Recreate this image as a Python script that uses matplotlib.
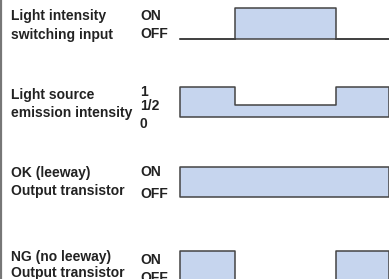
import matplotlib
matplotlib.use("Agg")
import matplotlib.pyplot as plt
import numpy as np

# ---- data ----
times = [0.0, 2.65, 7.45, 10.0]            # transition times (arbitrary units)
switch_input = [0, 1, 0, 0]                # Light intensity switching input (OFF/ON)
emission = [1, 0.4, 1, 1]                  # Light source emission intensity (1, 1/2)
ok_output = [1, 1, 1, 1]                   # OK (leeway) output transistor
ng_output = [1, 0, 1, 1]                   # NG (no leeway) output transistor

row_titles = [("Light intensity", "switching input"),
              ("Light source", "emission intensity"),
              ("OK (leeway)", "Output transistor"),
              ("NG (no leeway)", "Output transistor")]
row_ticks = [["ON", "OFF"], ["1", "1/2", "0"], ["ON", "OFF"], ["ON", "OFF"]]
signals = [switch_input, emission, ok_output, ng_output]

W, H = 389, 279
fig = plt.figure(figsize=(W / 100, H / 100), dpi=100)

# background axes in pixel coords for text
bg = fig.add_axes([0, 0, 1, 1])
bg.set_xlim(0, W)
bg.set_ylim(H, 0)
bg.axis("off")
bg.plot([1, 1], [0, H], color="#777777", lw=1.6, solid_capstyle="butt")

font = dict(family=["Liberation Sans", "DejaVu Sans"], weight="bold",
            fontsize=10.0, color="#222222")

# layout (pixel positions)
title_base = [(20, 39), (98.5, 117.5), (176.5, 195), (261.5, 276.5)]
tick_base = [[19.5, 38.5], [95.5, 110.5, 127.5], [176.5, 198], [263.5, 281.5]]
row_top_bot = [(8, 39), (87, 116.5), (167, 197), (251, 281)]
wave_x0, wave_x1 = 180, W

for i in range(4):
    t1, t2 = row_titles[i]
    bg.text(11, title_base[i][0], t1, va="baseline", ha="left", **font)
    bg.text(11, title_base[i][1], t2, va="baseline", ha="left", **font)
    for lab, yb in zip(row_ticks[i], tick_base[i]):
        bg.text(140, yb, lab, va="baseline", ha="left", **font)

    top, bot = row_top_bot[i]
    ax = fig.add_axes([wave_x0 / W, 1 - bot / H, (wave_x1 - wave_x0) / W, (bot - top) / H])
    ax.set_xlim(times[0], times[-1])
    ax.set_ylim(0, 1)
    ax.axis("off")
    ax.fill_between(times, signals[i], 0, step="post", facecolor="#C6D5EE",
                    edgecolor="#444444", lw=1.1, clip_on=False)

fig.savefig("out.png", dpi=100)
